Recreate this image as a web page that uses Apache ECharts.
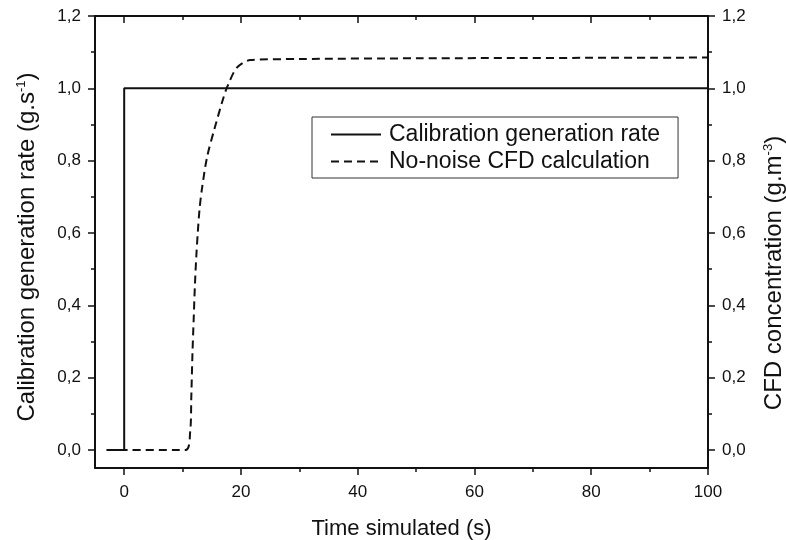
<!DOCTYPE html>
<html>
<head>
<meta charset="utf-8">
<script src="https://cdn.jsdelivr.net/npm/echarts@6/dist/echarts.min.js"></script>
<style>
html, body { margin: 0; padding: 0; background: #fff; }
#main { width: 786px; height: 540px; }
</style>
</head>
<body>
<div id="main"></div>
<script>
// 数据
var seriesNames = ['Calibration generation rate', 'No-noise CFD calculation'];
var calibTime = [-3, 0, 0, 100];
var calibRate = [0, 0, 1, 1];
var cfdTime = [-3, 10.5, 11.3, 11.5, 11.7, 11.9, 12.1, 12.35, 12.6, 12.9, 13.3, 14.2, 15.5, 17, 17.7, 19.3, 21.6, 30, 50, 100];
var cfdConc = [0, 0, 0.05, 0.15, 0.27, 0.36, 0.45, 0.535, 0.6, 0.665, 0.72, 0.81, 0.89, 0.974, 1.006, 1.057, 1.078, 1.081, 1.083, 1.085];
var xMajorTicks = [0, 20, 40, 60, 80, 100];
var xMinorTicks = [10, 30, 50, 70, 90];
var yMajorTicks = [0, 0.2, 0.4, 0.6, 0.8, 1.0, 1.2];
var yMinorTicks = [0.1, 0.3, 0.5, 0.7, 0.9, 1.1];

function pairs(xs, ys) {
	var out = [];
	for (var i = 0; i < xs.length; i++) {
		out.push([xs[i], ys[i]]);
	}
	return out;
}

var FONT = '"Liberation Sans", Arial, sans-serif';
var lineCol = '#111';

function xAxisDef(pos, ticks, len, inside, showLine, label, name) {
	return {
		type : 'value',
		position : pos,
		min : -5,
		max : 100,
		name : name || '',
		nameLocation : 'middle',
		nameGap : 50,
		nameTextStyle : { fontFamily : FONT, fontSize : 22, color : '#111' },
		axisLine : { show : showLine, onZero : false, lineStyle : { color : lineCol, width : 2 } },
		axisTick : { show : true, inside : inside, length : len, customValues : ticks, lineStyle : { color : lineCol, width : 1.5 } },
		axisLabel : { show : label, customValues : ticks, margin : 16, fontFamily : FONT, fontSize : 17, color : '#111' },
		splitLine : { show : false }
	};
}

function yAxisDef(pos, ticks, len, showLine, label, name, namePad, gap) {
	return {
		type : 'value',
		position : pos,
		min : -0.05,
		max : 1.2,
		name : name || '',
		nameLocation : 'middle',
		nameRotate : 90,
		nameGap : gap || 57,
		nameTextStyle : {
			fontFamily : FONT, fontSize : 24, color : '#111',
			padding : namePad || 0,
			rich : {
				a : { fontFamily : FONT, fontSize : 24, color : '#111' },
				s : { fontFamily : FONT, fontSize : 13, color : '#111', verticalAlign : 'top', padding : [0, 0, 11, 0] }
			}
		},
		axisLine : { show : showLine, onZero : false, lineStyle : { color : lineCol, width : 2 } },
		axisTick : { show : true, inside : false, length : len, customValues : ticks, lineStyle : { color : lineCol, width : 1.5 } },
		axisLabel : {
			show : label, customValues : ticks, margin : 14, fontFamily : FONT, fontSize : 17, color : '#111',
			formatter : function(v) { return v.toFixed(1).replace('.', ','); }
		},
		splitLine : { show : false }
	};
}

var chart = echarts.init(document.getElementById('main'));
var option = {
	backgroundColor : '#fff',
	animation : false,
	grid : { left : 95, right : 78, top : 16, bottom : 72, outerBoundsMode : 'none' },
	legend : {
		orient : 'vertical',
		left : 312,
		top : 117,
		padding : [4, 18, 3, 18],
		itemGap : 0,
		itemWidth : 50,
		itemHeight : 14,
		borderColor : '#333',
		borderWidth : 1,
		borderRadius : 0,
		itemStyle : { opacity : 0 },
		data : seriesNames,
		textStyle : { fontFamily : FONT, fontSize : 23, lineHeight : 27, color : '#111', padding : [0, 0, 0, 3] }
	},
	xAxis : [
		xAxisDef('bottom', xMajorTicks, 7, false, true, true, 'Time simulated (s)'),
		xAxisDef('bottom', xMinorTicks, 4, false, false, false),
		xAxisDef('top', xMajorTicks, 7, true, true, false),
		xAxisDef('top', xMinorTicks, 4, true, false, false)
	],
	yAxis : [
		yAxisDef('left', yMajorTicks, 7, true, true, '{a|Calibration generation rate (g.s}{s|-1}{a|)}', [0, 10, 0, 0], 56),
		yAxisDef('left', yMinorTicks, 4, false, false),
		yAxisDef('right', yMajorTicks, 7, true, true, '{a|CFD concentration (g.m}{s|-3}{a|)}', [0, 62, 0, 0], 54),
		yAxisDef('right', yMinorTicks, 4, false, false)
	],
	series : [
		{
			name : seriesNames[0],
			type : 'line',
			xAxisIndex : 0,
			yAxisIndex : 0,
			data : pairs(calibTime, calibRate),
			symbol : 'none',
			lineStyle : { color : '#111', width : 2, type : 'solid' },
			itemStyle : { color : '#111' },
			z : 3
		},
		{
			name : seriesNames[1],
			type : 'line',
			xAxisIndex : 0,
			yAxisIndex : 2,
			data : pairs(cfdTime, cfdConc),
			symbol : 'none',
			smooth : 0.3,
			lineStyle : { color : '#111', width : 2, type : [8, 5] },
			itemStyle : { color : '#111' },
			z : 2
		}
	]
};
chart.setOption(option);
</script>
</body>
</html>
